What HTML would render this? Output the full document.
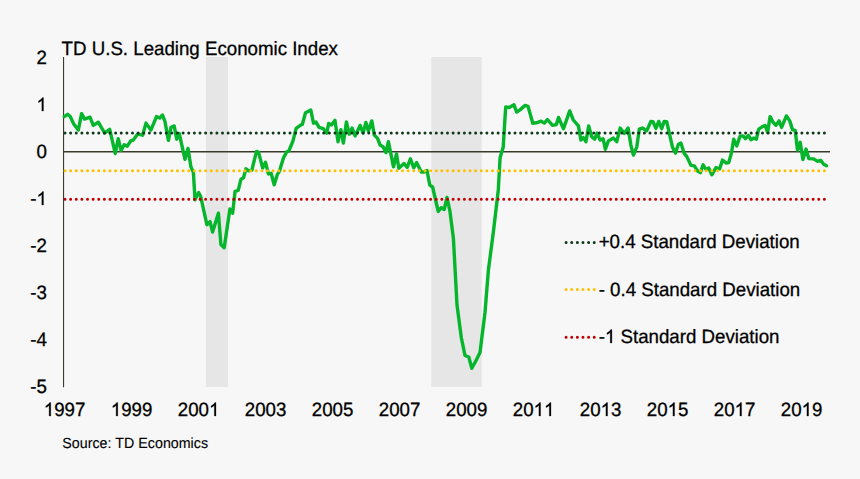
<!DOCTYPE html>
<html><head><meta charset="utf-8"><style>
html,body{margin:0;padding:0;background:#f7f7f7;}
body{width:860px;height:479px;overflow:hidden;}
svg{display:block;font-family:"Liberation Sans",sans-serif;font-kerning:none;text-rendering:geometricPrecision;}
</style></head><body>
<svg width="860" height="479" viewBox="0 0 860 479">
<rect x="0" y="0" width="860" height="479" fill="#f7f7f7"/>
<rect x="206" y="57" width="22" height="330" fill="#e6e6e6"/>
<rect x="431.3" y="57" width="50.5" height="330" fill="#e6e6e6"/>
<line x1="63" y1="151.8" x2="830" y2="151.8" stroke="#3a3a2a" stroke-width="1.6"/>
<line x1="63.55" y1="57" x2="63.55" y2="387.3" stroke="#393b2b" stroke-width="1.1"/>
<path d="M64.3 116.6 L67.6 114.3 L70.2 116.6 L73.9 124.2 L78.3 130.1 L81.6 113.7 L84.6 119.1 L90.0 117.2 L93.3 125.4 L98.3 122.2 L104.6 133.0 L109.7 129.4 L115.3 153.5 L118.2 138.6 L121.1 150.3 L124.3 144.7 L127.3 146.2 L130.9 140.6 L133.1 140.3 L137.5 134.2 L142.6 135.2 L146.0 123.1 L150.9 130.1 L156.5 116.6 L159.7 118.0 L162.5 115.0 L165.0 121.7 L168.4 140.4 L170.9 127.5 L174.2 125.9 L176.7 139.2 L179.2 133.4 L185.0 159.3 L188.0 148.4 L190.9 166.8 L193.4 172.5 L195.0 199.7 L198.6 192.4 L200.7 196.5 L206.9 224.7 L210.0 221.6 L212.6 232.0 L218.4 213.2 L220.9 244.6 L224.2 247.7 L229.9 209.0 L232.6 213.2 L235.1 191.3 L238.2 190.3 L241.0 179.2 L243.5 177.7 L246.0 168.8 L248.7 170.9 L251.8 170.4 L256.5 151.4 L258.6 152.4 L262.7 168.1 L265.5 162.2 L268.4 173.9 L271.1 173.3 L274.2 184.8 L277.4 174.3 L279.4 171.2 L283.6 157.6 L286.8 151.8 L288.8 151.0 L293.0 140.9 L296.1 128.4 L300.3 125.3 L302.4 124.2 L305.5 112.7 L310.8 110.0 L313.5 123.2 L316.0 122.1 L319.1 127.4 L323.3 128.7 L326.7 133.1 L328.7 123.4 L331.4 125.0 L335.0 120.4 L338.0 141.7 L340.9 129.7 L343.4 143.1 L346.4 122.0 L349.2 134.2 L352.1 128.0 L355.1 135.9 L360.1 125.4 L363.1 133.1 L365.9 122.5 L368.4 130.9 L371.8 120.9 L374.3 135.1 L377.6 138.4 L380.1 145.1 L383.1 146.7 L385.9 152.6 L388.4 141.7 L393.5 166.8 L396.5 153.8 L398.8 168.2 L404.0 163.5 L407.2 167.3 L410.4 158.8 L413.8 167.8 L416.6 162.6 L421.3 172.0 L424.1 172.0 L427.0 170.5 L429.8 185.1 L432.6 187.0 L438.2 211.4 L441.1 207.7 L444.2 209.5 L447.0 197.5 L450.0 211.7 L453.4 238.4 L457.0 305.0 L461.3 337.5 L465.0 355.5 L468.8 357.0 L471.8 368.3 L476.3 360.0 L480.0 352.5 L485.0 312.5 L488.4 270.0 L493.4 231.7 L498.3 190.0 L500.1 157.6 L503.2 147.2 L505.7 106.9 L509.2 107.5 L514.0 104.8 L516.7 112.1 L520.3 109.6 L525.1 105.4 L528.0 106.3 L532.8 123.2 L536.3 122.8 L541.1 121.1 L544.3 123.2 L547.4 119.6 L552.6 125.3 L556.4 124.6 L558.5 117.5 L563.5 128.8 L569.7 110.9 L573.3 120.0 L578.4 125.9 L580.9 140.1 L583.4 137.6 L585.9 141.7 L588.7 125.9 L591.7 136.7 L594.7 139.2 L597.1 133.1 L600.1 140.1 L603.1 138.7 L605.4 149.3 L608.4 140.9 L613.4 138.1 L616.8 141.7 L620.1 128.1 L624.3 133.4 L628.1 128.1 L630.9 145.1 L633.4 155.1 L636.8 146.8 L639.3 129.2 L642.5 128.0 L646.7 130.9 L650.9 121.4 L653.0 121.7 L655.9 128.4 L658.7 121.4 L661.7 128.7 L664.2 121.4 L666.7 121.7 L672.6 147.6 L675.4 153.1 L678.4 144.2 L680.9 143.1 L684.2 153.4 L686.7 156.4 L690.9 165.4 L694.3 165.9 L697.6 171.0 L700.4 172.6 L703.1 164.8 L705.9 169.3 L708.8 168.1 L711.8 174.8 L716.0 167.6 L719.7 168.8 L722.5 160.1 L725.9 163.1 L728.7 162.6 L731.4 153.1 L733.7 139.2 L736.7 145.9 L740.0 136.4 L743.0 135.9 L745.4 138.7 L748.4 135.4 L750.9 139.7 L753.7 138.1 L756.4 139.2 L758.7 129.1 L761.7 127.1 L765.1 125.4 L767.6 132.4 L770.1 116.6 L773.1 122.4 L775.9 125.2 L779.0 120.9 L781.6 127.4 L786.4 115.9 L789.8 120.9 L792.5 129.7 L795.2 130.4 L797.5 150.1 L800.2 142.3 L802.9 159.6 L806.1 149.1 L808.8 158.6 L813.5 158.9 L817.6 161.4 L820.6 160.3 L823.7 164.3 L826.4 165.7" fill="none" stroke="#05b52b" stroke-width="3.4" stroke-linejoin="round" stroke-linecap="round"/>
<g stroke-width="3.0" stroke-linecap="round" stroke-dasharray="0 5.625" fill="none">
<line x1="65" y1="132.9" x2="826" y2="132.9" stroke="#0d3a1c"/>
<line x1="65" y1="170.7" x2="826" y2="170.7" stroke="#ffc000"/>
<line x1="65" y1="199.3" x2="826" y2="199.3" stroke="#c00000"/>
<line x1="566.1" y1="242.4" x2="597" y2="242.4" stroke="#0d3a1c"/>
<line x1="566.1" y1="289.6" x2="597" y2="289.6" stroke="#ffc000"/>
<line x1="566.1" y1="337.3" x2="597" y2="337.3" stroke="#c00000"/>
</g>
<g fill="#000" stroke="#000">
<text transform="translate(61.60 55.00) scale(1 1.03)" font-size="18.7" stroke-width="0.28" xml:space="preserve">TD U.S. Leading Economic Index</text>
<text transform="translate(36.50 64.00) scale(1 1.03)" font-size="18.7" stroke-width="0.28" xml:space="preserve">2</text>
<path transform="translate(36.50 111.00) scale(0.009131 -0.009131)" stroke-width="30.67" d="M763 0L583 0L583 1147Q518 1085 412 1023Q306 961 221 930L221 1104Q374 1176 489 1278Q604 1380 652 1466L763 1466Z"/>
<text transform="translate(36.50 158.00) scale(1 1.03)" font-size="18.7" stroke-width="0.28" xml:space="preserve">0</text>
<text transform="translate(30.27 205.00) scale(1 1.03)" font-size="18.7" stroke-width="0.28" xml:space="preserve">-</text>
<path transform="translate(36.50 205.00) scale(0.009131 -0.009131)" stroke-width="30.67" d="M763 0L583 0L583 1147Q518 1085 412 1023Q306 961 221 930L221 1104Q374 1176 489 1278Q604 1380 652 1466L763 1466Z"/>
<text transform="translate(30.27 252.00) scale(1 1.03)" font-size="18.7" stroke-width="0.28" xml:space="preserve">-2</text>
<text transform="translate(30.27 299.00) scale(1 1.03)" font-size="18.7" stroke-width="0.28" xml:space="preserve">-3</text>
<text transform="translate(30.27 346.00) scale(1 1.03)" font-size="18.7" stroke-width="0.28" xml:space="preserve">-4</text>
<text transform="translate(30.27 393.00) scale(1 1.03)" font-size="18.7" stroke-width="0.28" xml:space="preserve">-5</text>
<path transform="translate(43.80 416.00) scale(0.009131 -0.009131)" stroke-width="30.67" d="M763 0L583 0L583 1147Q518 1085 412 1023Q306 961 221 930L221 1104Q374 1176 489 1278Q604 1380 652 1466L763 1466Z"/>
<text transform="translate(54.20 416.00) scale(1 1.03)" font-size="18.7" stroke-width="0.28" xml:space="preserve">997</text>
<path transform="translate(110.80 416.00) scale(0.009131 -0.009131)" stroke-width="30.67" d="M763 0L583 0L583 1147Q518 1085 412 1023Q306 961 221 930L221 1104Q374 1176 489 1278Q604 1380 652 1466L763 1466Z"/>
<text transform="translate(121.20 416.00) scale(1 1.03)" font-size="18.7" stroke-width="0.28" xml:space="preserve">999</text>
<text transform="translate(177.80 416.00) scale(1 1.03)" font-size="18.7" stroke-width="0.28" xml:space="preserve">200</text>
<path transform="translate(209.00 416.00) scale(0.009131 -0.009131)" stroke-width="30.67" d="M763 0L583 0L583 1147Q518 1085 412 1023Q306 961 221 930L221 1104Q374 1176 489 1278Q604 1380 652 1466L763 1466Z"/>
<text transform="translate(244.80 416.00) scale(1 1.03)" font-size="18.7" stroke-width="0.28" xml:space="preserve">2003</text>
<text transform="translate(311.80 416.00) scale(1 1.03)" font-size="18.7" stroke-width="0.28" xml:space="preserve">2005</text>
<text transform="translate(378.80 416.00) scale(1 1.03)" font-size="18.7" stroke-width="0.28" xml:space="preserve">2007</text>
<text transform="translate(445.80 416.00) scale(1 1.03)" font-size="18.7" stroke-width="0.28" xml:space="preserve">2009</text>
<text transform="translate(512.80 416.00) scale(1 1.03)" font-size="18.7" stroke-width="0.28" xml:space="preserve">20</text>
<path transform="translate(533.60 416.00) scale(0.009131 -0.009131)" stroke-width="30.67" d="M763 0L583 0L583 1147Q518 1085 412 1023Q306 961 221 930L221 1104Q374 1176 489 1278Q604 1380 652 1466L763 1466Z"/>
<path transform="translate(544.00 416.00) scale(0.009131 -0.009131)" stroke-width="30.67" d="M763 0L583 0L583 1147Q518 1085 412 1023Q306 961 221 930L221 1104Q374 1176 489 1278Q604 1380 652 1466L763 1466Z"/>
<text transform="translate(579.80 416.00) scale(1 1.03)" font-size="18.7" stroke-width="0.28" xml:space="preserve">20</text>
<path transform="translate(600.60 416.00) scale(0.009131 -0.009131)" stroke-width="30.67" d="M763 0L583 0L583 1147Q518 1085 412 1023Q306 961 221 930L221 1104Q374 1176 489 1278Q604 1380 652 1466L763 1466Z"/>
<text transform="translate(611.00 416.00) scale(1 1.03)" font-size="18.7" stroke-width="0.28" xml:space="preserve">3</text>
<text transform="translate(646.80 416.00) scale(1 1.03)" font-size="18.7" stroke-width="0.28" xml:space="preserve">20</text>
<path transform="translate(667.60 416.00) scale(0.009131 -0.009131)" stroke-width="30.67" d="M763 0L583 0L583 1147Q518 1085 412 1023Q306 961 221 930L221 1104Q374 1176 489 1278Q604 1380 652 1466L763 1466Z"/>
<text transform="translate(678.00 416.00) scale(1 1.03)" font-size="18.7" stroke-width="0.28" xml:space="preserve">5</text>
<text transform="translate(713.80 416.00) scale(1 1.03)" font-size="18.7" stroke-width="0.28" xml:space="preserve">20</text>
<path transform="translate(734.60 416.00) scale(0.009131 -0.009131)" stroke-width="30.67" d="M763 0L583 0L583 1147Q518 1085 412 1023Q306 961 221 930L221 1104Q374 1176 489 1278Q604 1380 652 1466L763 1466Z"/>
<text transform="translate(745.00 416.00) scale(1 1.03)" font-size="18.7" stroke-width="0.28" xml:space="preserve">7</text>
<text transform="translate(780.80 416.00) scale(1 1.03)" font-size="18.7" stroke-width="0.28" xml:space="preserve">20</text>
<path transform="translate(801.60 416.00) scale(0.009131 -0.009131)" stroke-width="30.67" d="M763 0L583 0L583 1147Q518 1085 412 1023Q306 961 221 930L221 1104Q374 1176 489 1278Q604 1380 652 1466L763 1466Z"/>
<text transform="translate(812.00 416.00) scale(1 1.03)" font-size="18.7" stroke-width="0.28" xml:space="preserve">9</text>
<text transform="translate(598.70 248.00) scale(1 1.03)" font-size="18.7" stroke-width="0.28" xml:space="preserve">+0.4 Standard Deviation</text>
<text transform="translate(598.70 296.00) scale(1 1.03)" font-size="18.7" stroke-width="0.28" xml:space="preserve">- 0.4 Standard Deviation</text>
<text transform="translate(598.70 343.00) scale(1 1.03)" font-size="18.7" stroke-width="0.28" xml:space="preserve">-</text>
<path transform="translate(604.93 343.00) scale(0.009131 -0.009131)" stroke-width="30.67" d="M763 0L583 0L583 1147Q518 1085 412 1023Q306 961 221 930L221 1104Q374 1176 489 1278Q604 1380 652 1466L763 1466Z"/>
<text transform="translate(615.33 343.00) scale(1 1.03)" font-size="18.7" stroke-width="0.28" xml:space="preserve"> Standard Deviation</text>
<text transform="translate(62.30 448.00) scale(1 1.03)" font-size="14.25" stroke-width="0.12" xml:space="preserve">Source: TD Economics</text>
</g>
</svg>
</body></html>
